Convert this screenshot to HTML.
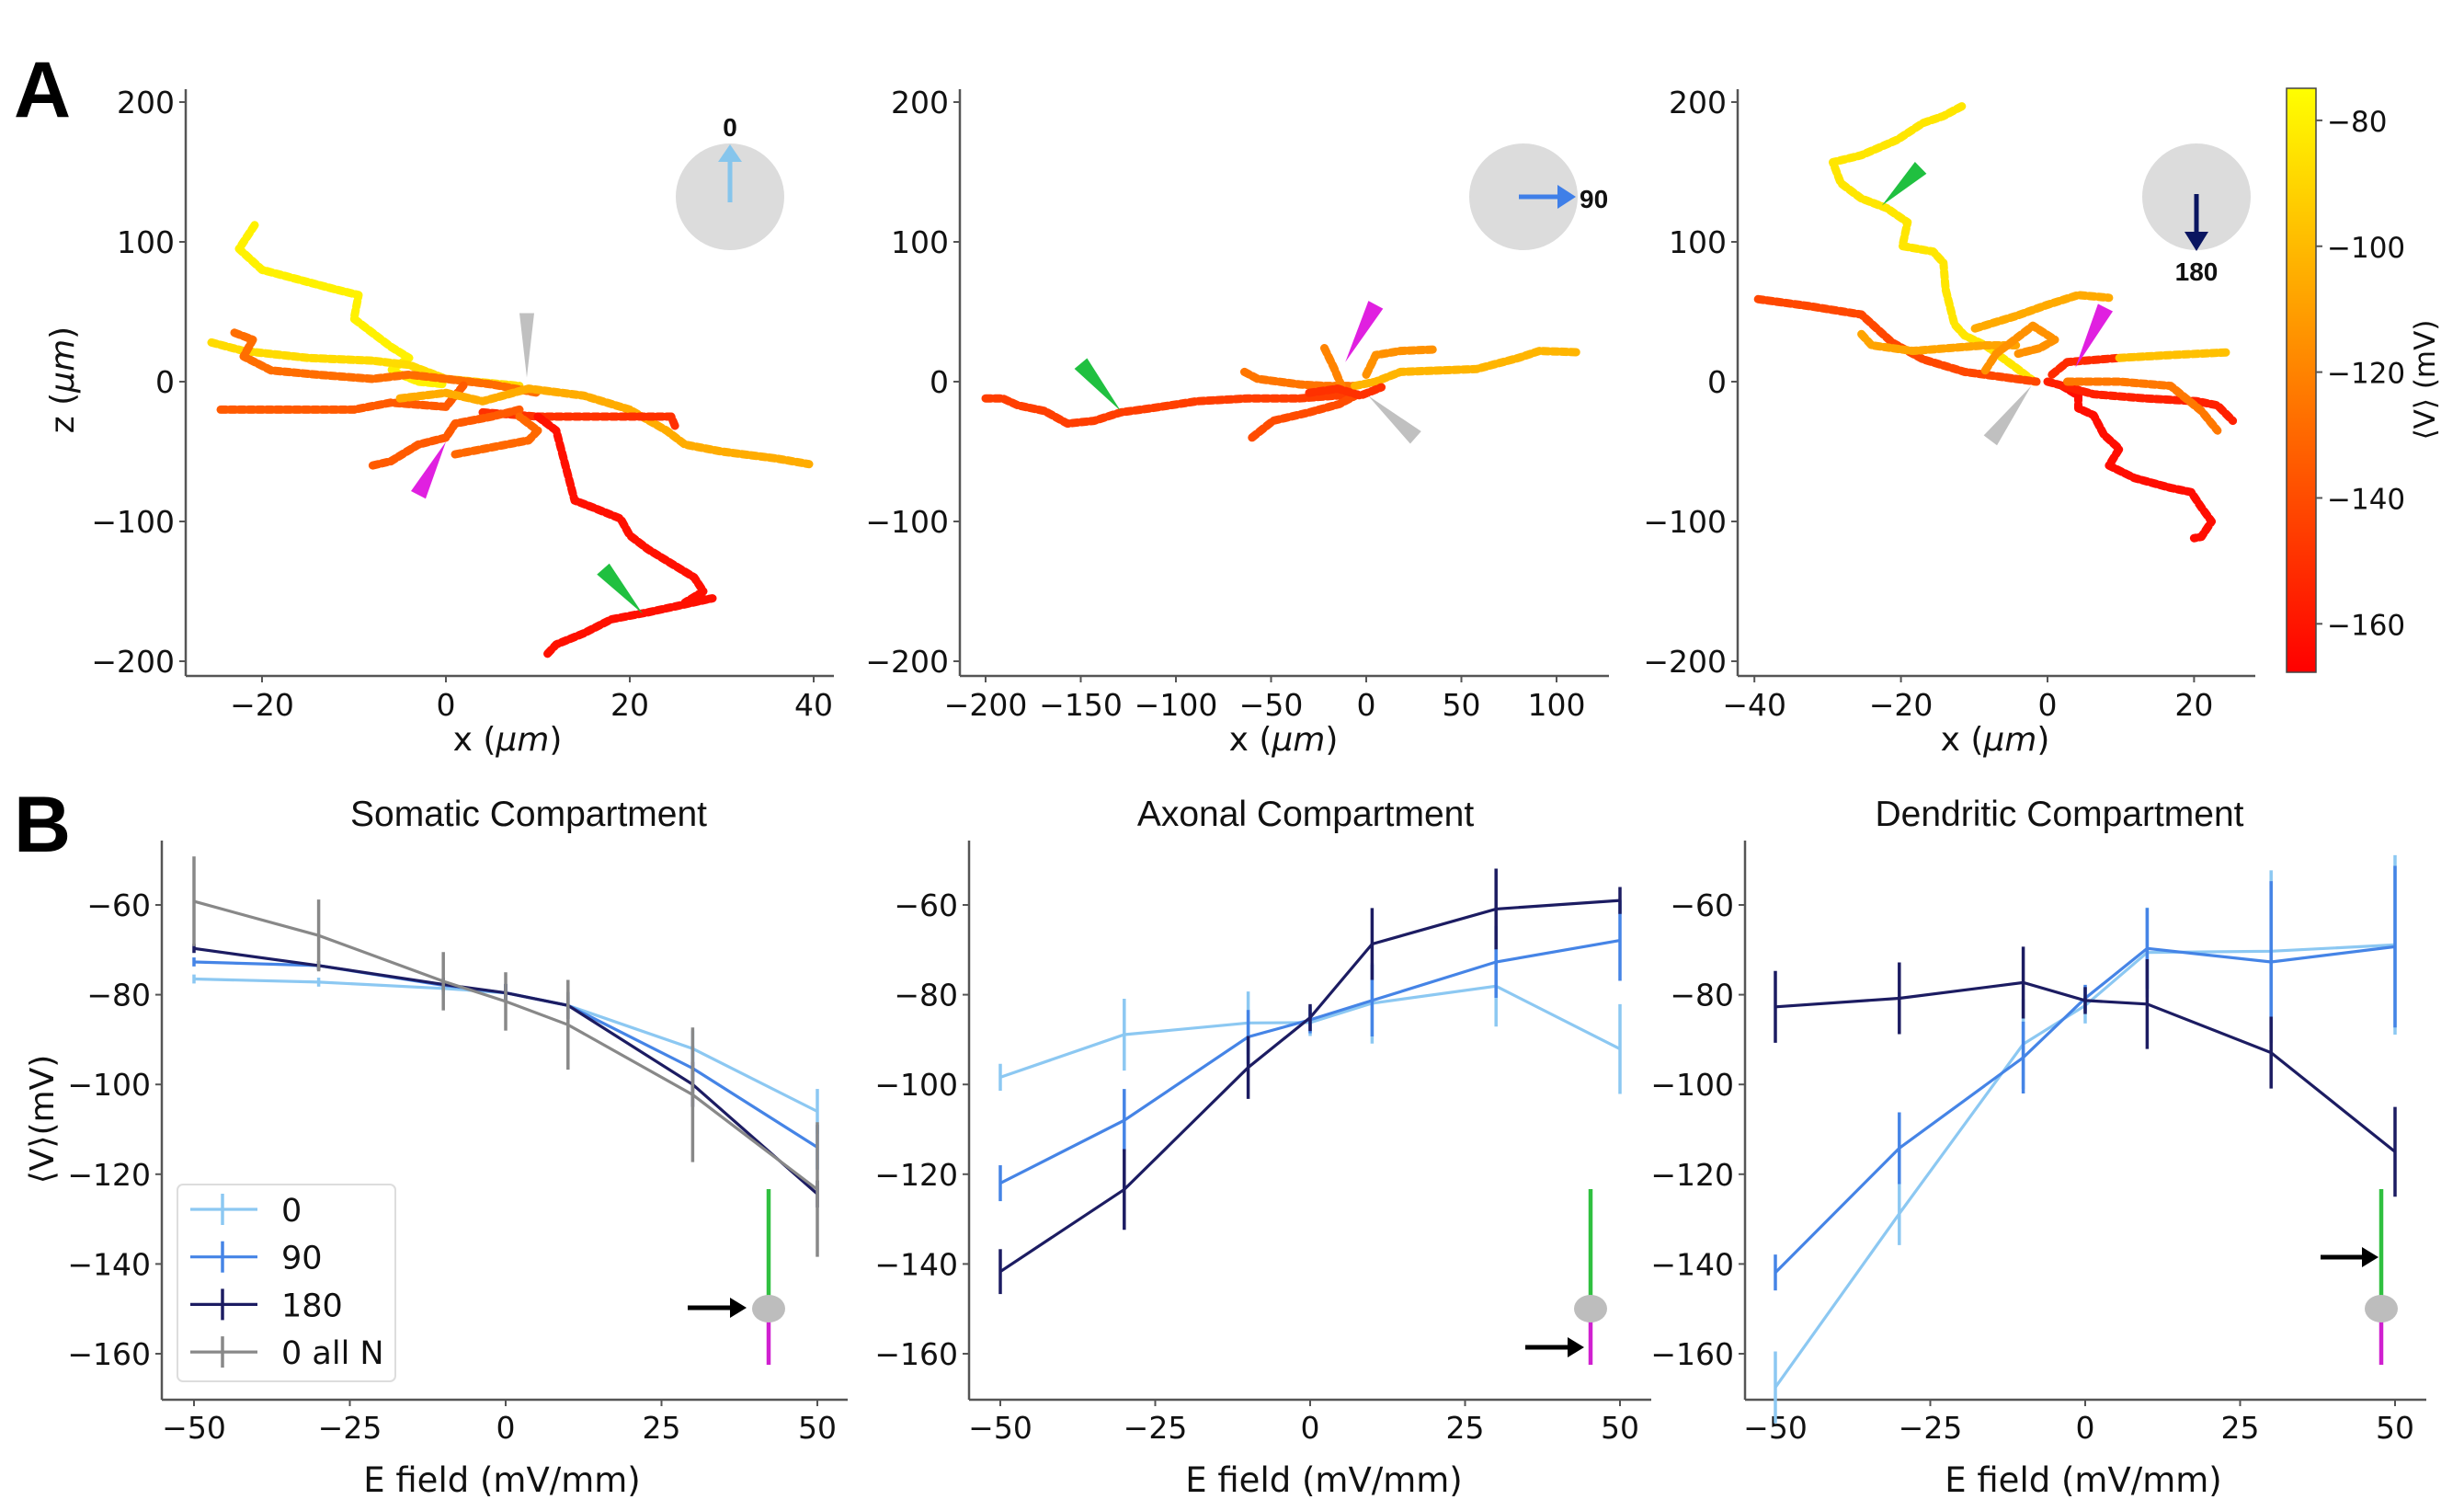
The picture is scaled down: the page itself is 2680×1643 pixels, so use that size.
<!DOCTYPE html>
<html><head><meta charset="utf-8"><style>
html,body{margin:0;padding:0;background:#fff;}
svg{display:block;font-family:"DejaVu Sans","Liberation Sans",sans-serif;}
</style></head><body>
<svg id="fig" width="2680" height="1643" viewBox="0 0 2680 1643" xmlns="http://www.w3.org/2000/svg">
<defs>
<linearGradient id="cbgrad" x1="0" y1="1" x2="0" y2="0">
<stop offset="0" stop-color="#ff0000"/><stop offset="1" stop-color="#ffff00"/>
</linearGradient>
</defs>
<g id="root"></g>
</svg>
<script>
// ---------- Panel B data ----------
const efield = [-50,-30,-10,0,10,30,50];
const somaV0   = [-76.5,-77.2,-78.6,-79.6,-82.4,-92,-106];
const somaE0   = [1,1,1.5,2,2,4,5];
const somaV90  = [-72.7,-73.5,-77.9,-79.6,-82.4,-96.4,-114];
const somaE90  = [1,1,1.5,2,3,5,5];
const somaV180 = [-69.7,-73.5,-77.7,-79.6,-82.4,-100,-124.4];
const somaE180 = [1,1,1.5,2,3,5,3];
const somaVall = [-59.2,-66.8,-77,-81.5,-86.7,-102.3,-123.4];
const somaEall = [10,8,6.5,6.5,10,15,15];
const axonV0   = [-98.4,-88.9,-86.3,-86.2,-81.9,-78.1,-92.1];
const axonE0   = [3,8,7,3,9,9,10];
const axonV90  = [-122,-108,-89.4,-85.6,-81.3,-72.7,-67.9];
const axonE90  = [4,7,6,3,8,8,9];
const axonV180 = [-141.7,-123.4,-96.2,-85.1,-68.7,-60.9,-59];
const axonE180 = [5,9,7,3,8,9,3];
const dendV0   = [-167.5,-128.8,-91,-82.4,-70.6,-70.3,-68.9];
const dendE0   = [8,7,10,4,10,18,20];
const dendV90  = [-141.9,-114.2,-94,-80.8,-69.7,-72.7,-69.3];
const dendE90  = [4,8,8,3,9,18,18];
const dendV180 = [-82.7,-80.8,-77.3,-81.3,-82.1,-92.9,-115];
const dendE180 = [8,8,8,3,10,8,10];
const bTicksX = [-50,-25,0,25,50];
const bTicksY = [-160,-140,-120,-100,-80,-60];
const legendLabels = ["0","90","180","0 all N"];

// ---------- Panel A data: branch waypoints [x, z] and mean voltage ----------
const a1Branches = [
 [[-20.8,112],[-22.5,95],[-20,80],[-12,66],[-9.5,62],[-10,45],[-6,25],[-4,17],[-6,8],[-3,0],[0,-2]],
 [[-25.5,28],[-22,22],[-15,17],[-8,15],[-4,12],[0,2],[8,-3]],
 [[-23,35],[-21,30],[-22,18],[-19,8],[-14,5],[-8,2],[-4,5],[0,2],[5,-2],[10,-8]],
 [[-24.5,-20],[-18,-20],[-10,-20],[-6,-15],[0,-18],[1,-10],[2,-2]],
 [[-5,-12],[0,-8],[4,-14],[9,-5],[15,-10],[20,-20],[24,-35],[26,-45],[30,-50],[36,-55],[39.5,-59]],
 [[4,-22],[10,-25],[18,-25],[24.5,-25],[25,-33]],
 [[8,-20],[5,-25],[1,-30],[0,-40],[-3,-45],[-6,-57],[-8,-60]],
 [[1,-52],[5,-47],[9,-42],[10,-35],[8,-25]],
 [[10,-25],[12,-35],[13,-60],[14,-85],[16,-90],[19,-98],[20,-110],[22,-120],[27,-140],[28,-150],[26,-158],[29,-155],[22,-165],[18,-170],[15,-180],[12,-188],[11,-195]]
];
const a1Volt = [-80,-88,-128,-135,-105,-150,-135,-130,-162];
const a2Branches = [
 [[-200,-12],[-191,-12],[-183,-17],[-169,-21],[-157,-30],[-143,-28],[-129,-22],[-113,-19],[-89,-14],[-62,-12],[-35,-12],[-6,-9]],
 [[-64,7],[-57,2],[-35,-2],[-22,-3],[-6,-3]],
 [[-60,-40],[-49,-28],[-30,-22],[-14,-16],[-3,-8]],
 [[-22,24],[-17,10],[-13,-3]],
 [[-6,-3],[5,0],[18,7],[58,9],[80,17],[91,22],[112,21]],
 [[0,5],[5,19],[18,22],[36,23]],
 [[-30,-8],[-15,-5],[-3,-10],[8,-4]]
];
const a2Volt = [-145,-125,-140,-120,-102,-115,-150];
const a3Branches = [
 [[-11.7,197],[-14.2,190],[-17,185],[-20.5,173],[-25.4,162],[-29.3,157],[-28.2,142],[-25.4,131],[-21.9,124],[-19.1,114],[-19.8,97],[-15.6,93],[-14.2,85],[-13.9,66],[-12.7,41],[-11.3,33],[-8.5,26],[-4.3,10],[-1.8,0]],
 [[-39.5,59],[-32.5,54],[-25.4,48],[-23.3,38],[-21.2,28],[-17,16],[-11.3,7],[-4.3,2],[-1.5,0]],
 [[-25.4,34],[-24,26],[-18.4,22],[-8.5,26],[-4.3,26]],
 [[-9.9,38],[-4.3,47],[0,55],[4.2,62],[8.4,60]],
 [[-8.5,8],[-7,20],[-2,40],[1,30],[-1,24],[-4,20]],
 [[2,-3],[4.2,-10],[4.2,-19],[6.3,-24],[7.7,-38],[9.8,-48],[8.4,-60],[11.9,-69],[16.8,-76],[19.6,-79],[21,-90],[22.4,-100],[21,-111],[20,-112]],
 [[0,0],[6.3,-9],[13.3,-12],[20.4,-14],[23.2,-17],[25.3,-28]],
 [[2.7,0],[9.8,0],[16.8,-3],[21,-21],[23.2,-35]],
 [[0.6,5],[2.7,14],[9.8,17]],
 [[9.8,17],[16.8,19],[24.6,21]]
];
const a3Volt = [-84,-142,-108,-106,-115,-163,-156,-124,-152,-98];
const aTicksY = [-200,-100,0,100,200];
const a1TicksX = [-20,0,20,40];
const a2TicksX = [-200,-150,-100,-50,0,50,100];
const a3TicksX = [-40,-20,0,20];
const cbTicks = [-80,-100,-120,-140,-160];
const cbMin = -167.7, cbMax = -74.9;

const NS = "http://www.w3.org/2000/svg";
const root = document.getElementById('root');
function mk(tag, attrs, parent, text){
  const e = document.createElementNS(NS, tag);
  for (const k in attrs) e.setAttribute(k, attrs[k]);
  if (text !== undefined) e.textContent = text;
  (parent || root).appendChild(e);
  return e;
}
function autumn(v){
  let t = (v - cbMin)/(cbMax - cbMin); t = Math.max(0, Math.min(1, t));
  return 'rgb(255,' + Math.round(t*255) + ',0)';
}
const AX = '#555';

// ---------- Panel A ----------
function panelA(cfg){
  const g = mk('g', {});
  
  
  const sx = x => cfg.x0 + x*cfg.kx;
  const sz = z => 415 - z*1.52;
  const tg = mk('g', {}, g);
  
  
  cfg.branches.forEach((br, i) => {
    const pts = br.map(p => sx(p[0]).toFixed(1) + ',' + sz(p[1]).toFixed(1)).join(' ');
    const pl = mk('polyline', {points: pts, fill: 'none', stroke: autumn(cfg.volts[i]), 'stroke-width': 9, 'stroke-linecap': 'round', 'stroke-linejoin': 'round', 'stroke-dasharray': '6 4'}, tg);
    
    
  });
  // wedges: tip and base centre in data coords, base width in px
  cfg.wedges.forEach(w => {
    const tx = sx(w.tip[0]), ty = sz(w.tip[1]);
    const bx = sx(w.base[0]), by = sz(w.base[1]);
    const dx = bx - tx, dy = by - ty, L = Math.hypot(dx, dy);
    const nx = -dy/L*w.w/2, ny = dx/L*w.w/2;
    const pts = [tx+','+ty, (bx+nx)+','+(by+ny), (bx-nx)+','+(by-ny)].join(' ');
    const p = mk('polygon', {points: pts, fill: w.c}, g);
    
    
  });
  mk('line', {x1: cfg.left, y1: 97, x2: cfg.left, y2: 735, stroke: AX, 'stroke-width': 2.5}, g);
  mk('line', {x1: cfg.left, y1: 735, x2: cfg.right, y2: 735, stroke: AX, 'stroke-width': 2.5}, g);
  aTicksY.forEach(t => {
    const y = sz(t);
    mk('line', {x1: cfg.left-7, y1: y, x2: cfg.left, y2: y, stroke: AX, 'stroke-width': 2}, g);
    const tx = mk('text', {x: cfg.left-12, y: y+12, 'font-size': 33, 'text-anchor': 'end', fill: '#111'}, g, t < 0 ? '\u2212' + (-t) : String(t));
    
    
  });
  cfg.ticksX.forEach(t => {
    const x = sx(t);
    mk('line', {x1: x, y1: 735, x2: x, y2: 742, stroke: AX, 'stroke-width': 2}, g);
    const tx = mk('text', {x: x, y: 778, 'font-size': 33, 'text-anchor': 'middle', fill: '#111'}, g, t < 0 ? '\u2212' + (-t) : String(t));
    
    
  });
  const xl = mk('text', {x: cfg.xlab, y: 816, 'font-size': 36, 'text-anchor': 'middle', fill: '#111'}, g);
  xl.innerHTML = 'x (<tspan font-style="italic">\u03bcm</tspan>)';
  
  
  const ig = mk('g', {}, g);
  
  
  mk('ellipse', {cx: cfg.cx, cy: 214, rx: 59, ry: 58, fill: '#dcdcdc'}, ig);
  const a = cfg.arrow;
  mk('line', {x1: a[0], y1: a[1], x2: a[2], y2: a[3], stroke: a[4], 'stroke-width': 5}, ig);
  mk('polygon', {points: a[5], fill: a[4]}, ig);
  const lbl = mk('text', {x: cfg.lbl[0], y: cfg.lbl[1], 'font-size': 28, 'font-weight': 'bold', 'text-anchor': cfg.lbl[2], fill: '#111', 'font-family': 'Liberation Sans, sans-serif'}, ig, cfg.lbl[3]);
  
  
}

panelA({name: 'panel-a-angle-0', x0: 485, kx: 10, left: 202, right: 907, branches: a1Branches, volts: a1Volt, ticksX: a1TicksX, xlab: 552, cx: 794,
  arrow: [794, 220, 794, 172, '#86c5ec', '781,176 807,176 794,157'], lbl: [794, 148, 'middle', '0'],
  wedges: [{n:'soma-marker', c:'#c0c0c0', tip:[8.8,3], base:[8.8,49], w:16},
           {n:'axon-marker', c:'#e020e0', tip:[0,-43], base:[-3,-81], w:18},
           {n:'dendrite-marker', c:'#20c040', tip:[21.4,-166], base:[17.1,-134], w:18}]});
panelA({name: 'panel-a-angle-90', x0: 1486, kx: 2.07, left: 1044, right: 1750, branches: a2Branches, volts: a2Volt, ticksX: a2TicksX, xlab: 1396, cx: 1657,
  arrow: [1652, 214, 1696, 214, '#3f7fe8', '1694,201 1694,227 1714,214'], lbl: [1718, 226, 'start', '90'],
  wedges: [{n:'dendrite-marker', c:'#20c040', tip:[-129,-21], base:[-150,13], w:18},
           {n:'axon-marker', c:'#e020e0', tip:[-11,14], base:[5,55], w:18},
           {n:'soma-marker', c:'#c0c0c0', tip:[1,-10], base:[26,-40], w:18}]});
panelA({name: 'panel-a-angle-180', x0: 2227, kx: 7.97, left: 1890, right: 2453, branches: a3Branches, volts: a3Volt, ticksX: a3TicksX, xlab: 2170, cx: 2389,
  arrow: [2389, 211, 2389, 255, '#0a1560', '2376,252 2402,252 2389,273'], lbl: [2389, 305, 'middle', '180'],
  wedges: [{n:'dendrite-marker', c:'#20c040', tip:[-22.6,126], base:[-17.3,153], w:18},
           {n:'axon-marker', c:'#e020e0', tip:[3.8,10], base:[7.9,53], w:18},
           {n:'soma-marker', c:'#c0c0c0', tip:[-2.2,-3], base:[-7.8,-42], w:18}]});

const zl = mk('text', {x: 0, y: 0, 'font-size': 36, 'text-anchor': 'middle', fill: '#111', transform: 'translate(80,413) rotate(-90)'});
zl.innerHTML = 'z (<tspan font-style="italic">\u03bcm</tspan>)';



// colorbar
const cbg = mk('g', {});


mk('rect', {x: 2487, y: 96, width: 32, height: 635, fill: 'url(#cbgrad)', stroke: '#444', 'stroke-width': 1.5}, cbg);
const cby = v => 96 + (cbMax - v)/(cbMax - cbMin)*635;
cbTicks.forEach(t => {
  const y = cby(t);
  mk('line', {x1: 2519, y1: y, x2: 2526, y2: y, stroke: AX, 'stroke-width': 2}, cbg);
  const tx = mk('text', {x: 2531, y: y+12, 'font-size': 31, fill: '#111'}, cbg, '\u2212' + (-t));
  
  
});
const cbl = mk('text', {x: 0, y: 0, 'font-size': 31, 'text-anchor': 'middle', fill: '#111', transform: 'translate(2648,413) rotate(-90)'}, cbg, '\u27e8V\u27e9 (mV)');



// ---------- Panel B ----------
const cLight = '#8cc8f2', c90 = '#4584e6', c180 = '#1c1c62', cGray = '#888888';
function panelB(cfg){
  const g = mk('g', {});
  
  
  const sx = e => cfg.xm50 + (e+50)*cfg.k;
  const sy = v => 984 - (v+60)*4.88;
  mk('line', {x1: cfg.left, y1: 914, x2: cfg.left, y2: 1522, stroke: AX, 'stroke-width': 2.5}, g);
  mk('line', {x1: cfg.left, y1: 1522, x2: cfg.right, y2: 1522, stroke: AX, 'stroke-width': 2.5}, g);
  bTicksY.forEach(t => {
    const y = sy(t);
    mk('line', {x1: cfg.left-7, y1: y, x2: cfg.left, y2: y, stroke: AX, 'stroke-width': 2}, g);
    const tx = mk('text', {x: cfg.left-12, y: y+12, 'font-size': 33, 'text-anchor': 'end', fill: '#111'}, g, '\u2212' + (-t));
    
    
  });
  bTicksX.forEach(t => {
    const x = sx(t);
    mk('line', {x1: x, y1: 1522, x2: x, y2: 1529, stroke: AX, 'stroke-width': 2}, g);
    const tx = mk('text', {x: x, y: 1564, 'font-size': 33, 'text-anchor': 'middle', fill: '#111'}, g, t < 0 ? '\u2212' + (-t) : String(t));
    
    
  });
  const xt = mk('text', {x: cfg.xlab, y: 1622, 'font-size': 37, 'text-anchor': 'middle', fill: '#111'}, g, 'E field (mV/mm)');
  
  
  const tt = mk('text', {x: cfg.tx, y: 898, 'font-size': 39, 'text-anchor': 'middle', fill: '#111', 'font-family': 'Liberation Sans, sans-serif'}, g, cfg.title);
  
  
  cfg.series.forEach(s => {
    const sg = mk('g', {}, g);
    
    
    efield.forEach((e, i) => {
      const eb = mk('line', {x1: sx(e), y1: sy(s.v[i]-s.e[i]), x2: sx(e), y2: sy(s.v[i]+s.e[i]), stroke: s.c, 'stroke-width': 3.5}, sg);
      
      
    });
    const pl = mk('polyline', {points: efield.map((e,i) => sx(e).toFixed(1)+','+sy(s.v[i]).toFixed(1)).join(' '), fill: 'none', stroke: s.c, 'stroke-width': 3.2}, sg);
    
    
  });
  const ng = mk('g', {}, g);
  
  
  mk('line', {x1: cfg.nx, y1: 1293, x2: cfg.nx, y2: 1412, stroke: '#30c040', 'stroke-width': 4.5}, ng);
  mk('line', {x1: cfg.nx, y1: 1432, x2: cfg.nx, y2: 1484, stroke: '#d020d0', 'stroke-width': 4.5}, ng);
  mk('ellipse', {cx: cfg.nx, cy: 1423, rx: 18, ry: 15, fill: '#bdbdbd'}, ng);
  mk('line', {x1: cfg.ax[0], y1: cfg.ax[2], x2: cfg.ax[1]-14, y2: cfg.ax[2], stroke: '#000', 'stroke-width': 5}, ng);
  mk('polygon', {points: (cfg.ax[1]-18)+','+(cfg.ax[2]-11)+' '+(cfg.ax[1]-18)+','+(cfg.ax[2]+11)+' '+cfg.ax[1]+','+cfg.ax[2], fill: '#000'}, ng);
}
panelB({name: 'panel-b-somatic', xm50: 211, k: 6.78, left: 176, right: 922, xlab: 546, tx: 575, title: 'Somatic Compartment', nx: 836, ax: [748, 812, 1422],
  series: [{id:'0', v: somaV0, e: somaE0, c: cLight}, {id:'90', v: somaV90, e: somaE90, c: c90}, {id:'180', v: somaV180, e: somaE180, c: c180}, {id:'0-all-n', v: somaVall, e: somaEall, c: cGray}]});
panelB({name: 'panel-b-axonal', xm50: 1088, k: 6.74, left: 1054, right: 1796, xlab: 1440, tx: 1420, title: 'Axonal Compartment', nx: 1730, ax: [1659, 1723, 1465],
  series: [{id:'0', v: axonV0, e: axonE0, c: cLight}, {id:'90', v: axonV90, e: axonE90, c: c90}, {id:'180', v: axonV180, e: axonE180, c: c180}]});
panelB({name: 'panel-b-dendritic', xm50: 1931, k: 6.74, left: 1898, right: 2639, xlab: 2266, tx: 2240, title: 'Dendritic Compartment', nx: 2590, ax: [2524, 2587, 1367],
  series: [{id:'0', v: dendV0, e: dendE0, c: cLight}, {id:'90', v: dendV90, e: dendE90, c: c90}, {id:'180', v: dendV180, e: dendE180, c: c180}]});

const byl = mk('text', {x: 0, y: 0, 'font-size': 36, 'text-anchor': 'middle', fill: '#111', transform: 'translate(58,1217) rotate(-90)'}, root, '\u27e8V\u27e9(mV)');



// legend
const lg = mk('g', {});


mk('rect', {x: 193, y: 1288, width: 237, height: 214, rx: 6, fill: '#fff', stroke: '#ddd', 'stroke-width': 2}, lg);
const legCols = [cLight, c90, c180, cGray];
legendLabels.forEach((lab, i) => {
  const y = 1315 + i*51.7;
  const eg = mk('g', {}, lg);
  
  
  mk('line', {x1: 207, y1: y, x2: 280, y2: y, stroke: legCols[i], 'stroke-width': 3.2}, eg);
  mk('line', {x1: 242, y1: y-17, x2: 242, y2: y+17, stroke: legCols[i], 'stroke-width': 3.5}, eg);
  mk('text', {x: 306, y: y+13, 'font-size': 35, fill: '#111'}, eg, lab);
});

const la = mk('text', {x: 15, y: 127, 'font-size': 86, 'font-weight': 'bold', fill: '#000', 'font-family': 'Liberation Sans, sans-serif'}, root, 'A');


const lb = mk('text', {x: 15, y: 926, 'font-size': 86, 'font-weight': 'bold', fill: '#000', 'font-family': 'Liberation Sans, sans-serif'}, root, 'B');


</script>
</body></html>
